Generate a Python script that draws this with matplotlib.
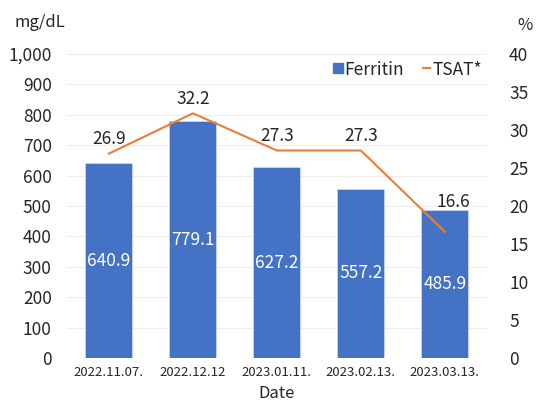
import matplotlib
matplotlib.use("Agg")
from matplotlib import pyplot as plt
from matplotlib.lines import Line2D
import numpy as np

# data
dates = ["2022.11.07.", "2022.12.12", "2023.01.11.", "2023.02.13.", "2023.03.13."]
ferritin = [640.9, 779.1, 627.2, 557.2, 485.9]
tsat = [26.9, 32.2, 27.3, 27.3, 16.6]

plt.rcParams['font.family'] = ['Noto Sans CJK KR', 'DejaVu Sans']
blue = '#4472C4'
orange = '#ED7D31'
txt = '#262626'

fig = plt.figure(figsize=(5.38, 4.04), dpi=100)
ax = fig.add_axes([0.1245, 0.1139, 0.7805, 0.7524])
ax2 = ax.twinx()

x = np.arange(len(dates))
ax.bar(x, ferritin, width=0.56, color=blue, edgecolor='#C9D6EE', linewidth=0.6, zorder=2)
ax2.plot(x, tsat, color=orange, linewidth=1.5, zorder=3)

# bar labels in the middle of each bar
for xi, v in zip(x, ferritin):
    ax.text(xi, v / 2, f"{v:.1f}", ha='center', va='center', color='white', fontsize=12.5)

# line labels above the points (last one nudged clear of the line, as in the original)
for i, (xi, v) in enumerate(zip(x, tsat)):
    off = (6, 15) if i == len(tsat) - 1 else (0, 4)
    ax2.annotate(f"{v:.1f}", (xi, v), xytext=off, textcoords='offset points',
                 ha='center', va='bottom', color=txt, fontsize=12.5)

ax.set_xlim(-0.5, len(dates) - 0.5)
ax.set_ylim(0, 1000)
ax.set_yticks(np.arange(0, 1001, 100))
ax.set_yticklabels([f"{t:,}" for t in range(0, 1001, 100)])
ax2.set_ylim(0, 40)
ax2.set_yticks(np.arange(0, 41, 5))

ax.set_xticks(x)
ax.set_xticklabels(dates)
ax.grid(axis='y', color='#EDEDED', linewidth=0.8, zorder=0)
ax.set_axisbelow(True)

for a in (ax, ax2):
    for s in a.spines.values():
        s.set_visible(False)
    a.tick_params(length=0, labelsize=12.5, labelcolor=txt)
ax.tick_params(axis='y', pad=11)
ax.tick_params(axis='x', labelsize=9.5, pad=6)
ax2.tick_params(axis='y', pad=16)

ax.set_xlabel('Date', fontsize=12, color=txt, labelpad=4)
fig.text(0.027, 0.945, 'mg/dL', fontsize=12, color=txt, ha='left', va='center')
fig.text(0.962, 0.938, '%', fontsize=12, color=txt, ha='left', va='center')

handles = [Line2D([0], [0], marker='s', color='none', markerfacecolor=blue, markeredgecolor=blue, markersize=6.5),
           Line2D([0], [0], color=orange, linewidth=1.5)]
ax2.legend(handles, ['Ferritin', 'TSAT*'], loc='upper right', bbox_to_anchor=(1.025, 1.03), ncol=2,
           frameon=False, fontsize=12.5, handlelength=0.45, handletextpad=0.1, columnspacing=1.1,
           labelcolor=txt)

plt.savefig('out.png', dpi=100)
